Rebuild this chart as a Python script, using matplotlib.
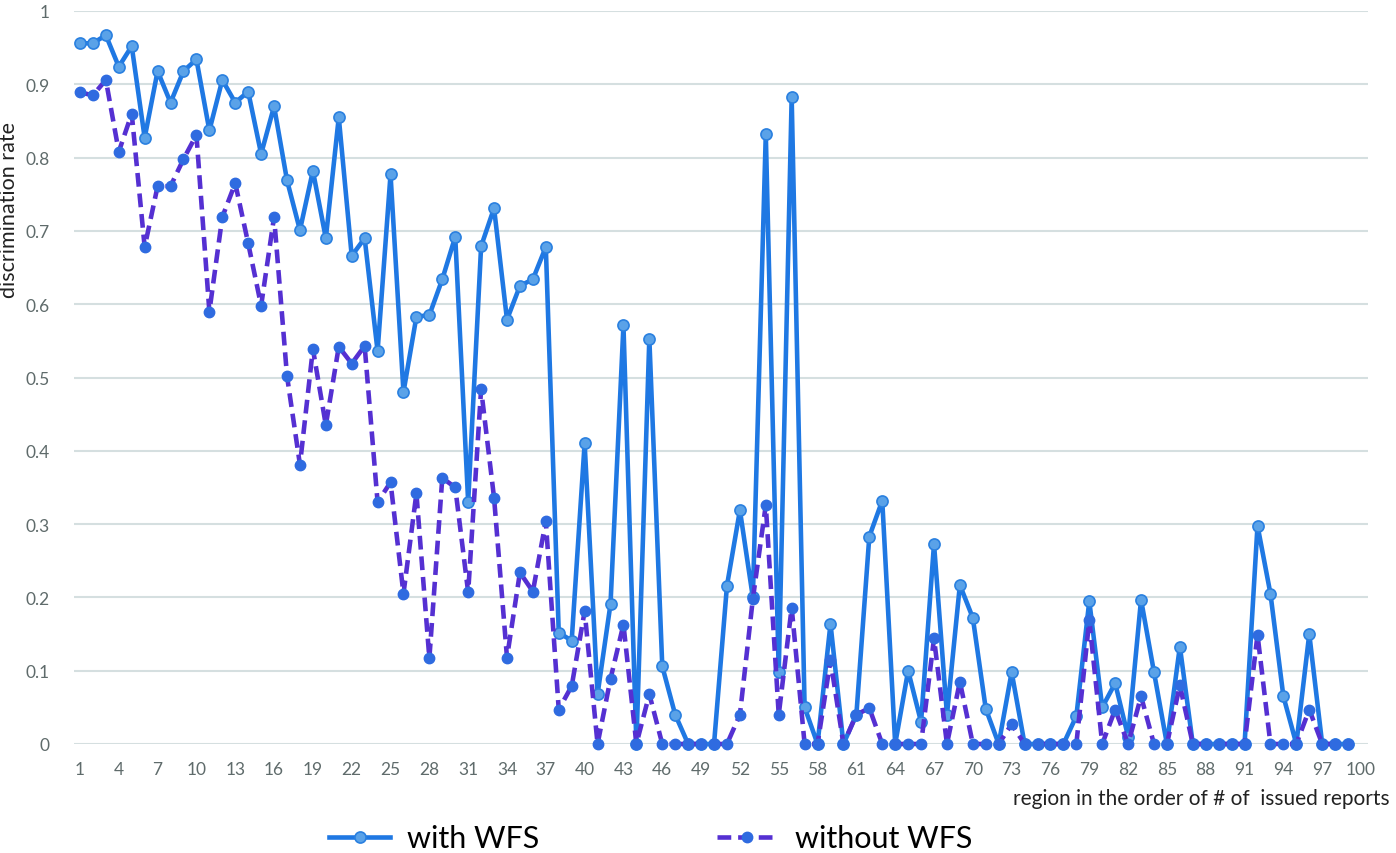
import numpy as np
import matplotlib
matplotlib.use('Agg')
import matplotlib.pyplot as plt

plt.rcParams['font.family'] = ['Lato', 'DejaVu Sans']

# data (region 1..100, last one is empty)
regions = list(range(1, 101))

with_wfs = [0.956, 0.956, 0.967, 0.924, 0.952, 0.827, 0.918, 0.875, 0.918, 0.934,
            0.837, 0.906, 0.875, 0.890, 0.805, 0.870, 0.769, 0.701, 0.782, 0.690,
            0.855, 0.666, 0.690, 0.536, 0.777, 0.480, 0.583, 0.585, 0.634, 0.692,
            0.330, 0.679, 0.731, 0.579, 0.625, 0.634, 0.678, 0.152, 0.141, 0.410,
            0.068, 0.191, 0.571, 0.0, 0.553, 0.106, 0.040, 0.0, 0.0, 0.0,
            0.216, 0.319, 0.200, 0.832, 0.098, 0.882, 0.050, 0.0, 0.164, 0.0,
            0.040, 0.283, 0.332, 0.0, 0.100, 0.030, 0.273, 0.040, 0.217, 0.172,
            0.048, 0.0, 0.098, 0.0, 0.0, 0.0, 0.0, 0.038, 0.195, 0.050,
            0.083, 0.010, 0.197, 0.098, 0.0, 0.133, 0.0, 0.0, 0.0, 0.0,
            0.0, 0.298, 0.205, 0.065, 0.0, 0.150, 0.0, 0.0, 0.0, np.nan]

without_wfs = [0.889, 0.885, 0.906, 0.808, 0.860, 0.678, 0.761, 0.761, 0.798, 0.831,
               0.590, 0.719, 0.765, 0.683, 0.598, 0.719, 0.502, 0.381, 0.539, 0.435,
               0.542, 0.519, 0.543, 0.330, 0.357, 0.205, 0.342, 0.117, 0.363, 0.350,
               0.207, 0.484, 0.336, 0.118, 0.234, 0.208, 0.304, 0.047, 0.079, 0.181,
               0.0, 0.089, 0.163, 0.0, 0.068, 0.0, 0.0, 0.0, 0.0, 0.0,
               0.0, 0.040, 0.198, 0.326, 0.040, 0.186, 0.0, 0.0, 0.114, 0.0,
               0.040, 0.049, 0.0, 0.0, 0.0, 0.0, 0.144, 0.0, 0.085, 0.0,
               0.0, 0.0, 0.027, 0.0, 0.0, 0.0, 0.0, 0.0, 0.169, 0.0,
               0.047, 0.0, 0.065, 0.0, 0.0, 0.080, 0.0, 0.0, 0.0, 0.0,
               0.0, 0.149, 0.0, 0.0, 0.0, 0.047, 0.0, 0.0, 0.0, np.nan]

yticks = [0, 0.1, 0.2, 0.3, 0.4, 0.5, 0.6, 0.7, 0.8, 0.9, 1]
ytick_labels = ['0', '0.1', '0.2', '0.3', '0.4', '0.5', '0.6', '0.7', '0.8', '0.9', '1']
xticks = list(range(1, 101, 3))

fig = plt.figure(figsize=(13.96, 8.54), dpi=100)
ax = fig.add_axes([73.5 / 1396, 1 - 745 / 854, (1367.5 - 73.5) / 1396, (745 - 12) / 854])

ax.plot(regions, with_wfs, color='#1f78e3', lw=3.3, marker='o', ms=8,
        mfc='#5aa2e8', mec='#2a80e0', mew=1.2, label='with WFS', clip_on=False, zorder=3)
ax.plot(regions, without_wfs, color='#5530d2', lw=3.3, ls=(0, (3, 1.5)), marker='o', ms=7.5,
        mfc='#2f6be0', mec='#2f6be0', label='without WFS', clip_on=False, zorder=4)

ax.set_xlim(0.5, 100.5)
ax.set_ylim(0, 1)
ax.set_yticks(yticks)
ax.set_yticklabels(ytick_labels)
ax.set_xticks(xticks)
ax.tick_params(axis='both', length=0, labelsize=12.5, colors='#5f6b6b')
ax.tick_params(axis='y', pad=17)
ax.tick_params(axis='x', pad=12)
ax.grid(axis='y', color='#d5dfe0', lw=1.5)
ax.set_axisbelow(True)
for s in ax.spines.values():
    s.set_visible(False)

ax.set_ylabel('discrimination rate', fontsize=15.5, color='#222222')
ax.yaxis.set_label_coords(-0.042, 0.73)
ax.set_xlabel('region in the order of # of  issued reports', fontsize=15, color='#222222')
ax.xaxis.set_label_coords(1.017, -0.06)
ax.xaxis.label.set_horizontalalignment('right')

fig.legend(loc='center', bbox_to_anchor=(0.466, 0.017), ncol=2, frameon=False,
           fontsize=22, handlelength=2.0, handletextpad=0.55, columnspacing=5.8)

fig.savefig('out.png', dpi=100)
